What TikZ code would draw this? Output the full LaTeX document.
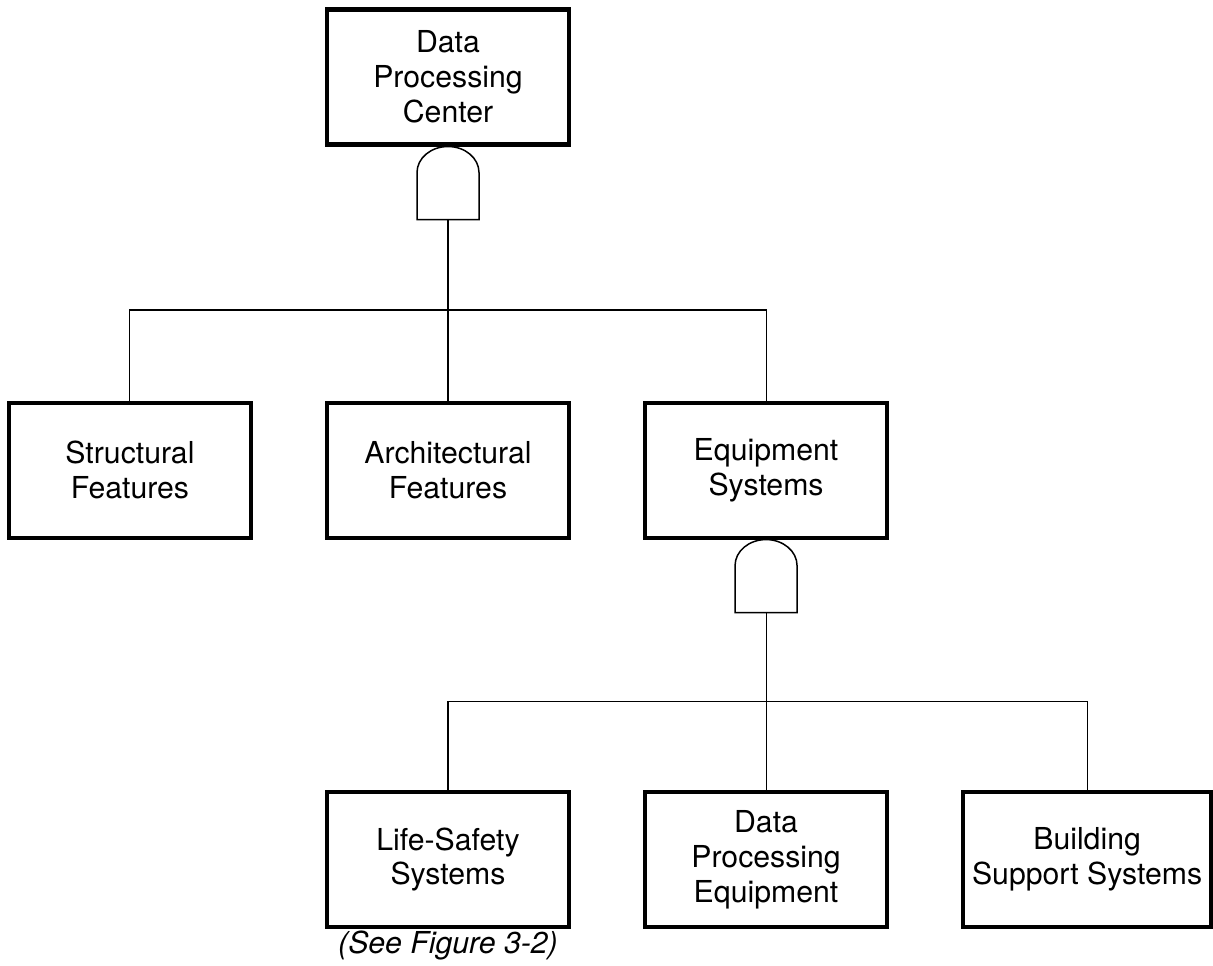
\documentclass[tikz,border=0pt]{standalone}
\usepackage{fontspec}
\setmainfont{TeX Gyre Heros}
\usetikzlibrary{positioning,calc}

\begin{document}
\begin{tikzpicture}[node distance=1.44cm,
                    every node/.append style={align=center, font=\fontsize{17.2}{19.8}\selectfont},
                    box/.style={draw, line width=2.3pt, minimum width=4.84cm, minimum height=2.7cm, inner sep=2pt},
                    gate/.style={minimum width=1.24cm, minimum height=1.46cm, inner sep=0pt, outer sep=0pt},
                    gateline/.style={line width=0.85pt},
                    link/.style={line width=0.6pt}]
                   \useasboundingbox (0,0) rectangle (24.26,19.3);

                   \node [box] (DPC) at (8.96,17.76) {Data\\Processing\\Center};
                   \node [gate, below=0pt of DPC] (G1) {};
                   \node [box, below=3.62cm of G1] (AF) {Architectural\\Features};
                   \node [box, left=of AF] (SF) {Structural\\Features};
                   \node [box, right=of AF] (ES) {Equipment\\Systems};
                   \node [gate, below=0pt of ES] (G2) {};
                   \node [box, below=3.55cm of G2] (DPE) {Data\\Processing\\Equipment};
                   \node [box, left=of DPE] (LS) {Life-Safety\\Systems};
                   \node [box, right=of DPE, minimum width=4.96cm] (BSS) {Building\\Support Systems};
                   \node [below=0pt of LS, inner sep=1pt, font=\fontsize{17.2}{19.8}\selectfont\itshape] (see) {(See Figure 3-2)};

                   % and gates
                   \foreach \g in {G1,G2}
                     \draw[gateline] (\g.south west) -- ([yshift=-0.52cm]\g.north west)
                       arc[start angle=180, end angle=0, x radius=0.62cm, y radius=0.52cm]
                       -- (\g.south east) -- cycle;

                   % bus lines
                   \coordinate (B1) at ($(G1.south)!0.5!(AF.north)$);
                   \coordinate (B2) at ($(G2.south)!0.5!(DPE.north)$);
                   \draw[link] (G1.south) -- (AF.north);
                   \draw[link] (SF.north) |- (B1) -| (ES.north);
                   \draw[link] (G2.south) -- (DPE.north);
                   \draw[link] (LS.north) |- (B2) -| (BSS.north);
                \end{tikzpicture}
\end{document}
